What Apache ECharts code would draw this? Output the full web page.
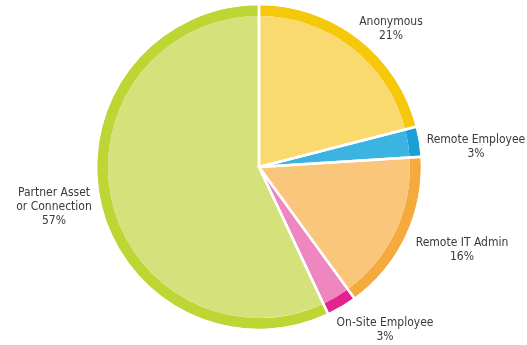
<!DOCTYPE html>
<html>
<head>
<meta charset="utf-8">
<script src="https://cdn.jsdelivr.net/npm/echarts@6/dist/echarts.min.js"></script>
<style>
  html, body { margin: 0; padding: 0; background: #fff; }
  #chart { width: 527px; height: 345px; }
</style>
</head>
<body>
<div id="chart"></div>
<script>
const categories = ["Anonymous", "Remote Employee", "Remote IT Admin", "On-Site Employee", "Partner Asset\nor Connection"];
const shares = [21, 3, 16, 3, 57];
const fillColors = ["#fad96e", "#3cb4e2", "#f9c67c", "#ee86bf", "#d5e17a"];
const rimColors = ["#f6c80a", "#1aa0d6", "#f4aa3c", "#e3238b", "#bdd634"];

// where each label sits (text anchor), same order as categories
const labelSpots = [
  [391, 29], [476, 147], [462, 250], [385, 330], [54, 207]
];

const chart = echarts.init(document.getElementById("chart"));
const center = [259, 167];
const labelFont = "'Liberation Sans Narrow', 'DejaVu Sans Condensed', 'Roboto', sans-serif";

function slices(colors) {
  return categories.map((name, i) => ({
    name,
    value: shares[i],
    itemStyle: { color: colors ? colors[i] : "rgba(0,0,0,0)" }
  }));
}

const base = {
  type: "pie",
  center: center,
  startAngle: 90,
  clockwise: true,
  silent: true,
  label: { show: false },
  labelLine: { show: false }
};

chart.setOption({
  backgroundColor: "#fff",
  animation: false,
  series: [
    Object.assign({}, base, {
      radius: [151, 162],
      data: slices(rimColors),
      itemStyle: { borderWidth: 0 }
    }),
    Object.assign({}, base, {
      radius: [0, 151],
      data: slices(fillColors),
      itemStyle: { borderWidth: 0 }
    }),
    Object.assign({}, base, {
      radius: [0, 163],
      data: slices(null),
      itemStyle: { borderColor: "#fff", borderWidth: 2.5 },
      label: {
        show: true,
        position: "outside",
        formatter: (p) => p.name + "\n" + p.value + "%",
        color: "#3a3a3a",
        fontFamily: labelFont,
        fontSize: 12,
        lineHeight: 14,
        align: "center",
        overflow: "none",
        width: 200
      },
      labelLayout: (params) => ({
        x: labelSpots[params.dataIndex][0],
        y: labelSpots[params.dataIndex][1],
        align: "center",
        verticalAlign: "middle"
      })
    })
  ]
});
</script>
</body>
</html>
